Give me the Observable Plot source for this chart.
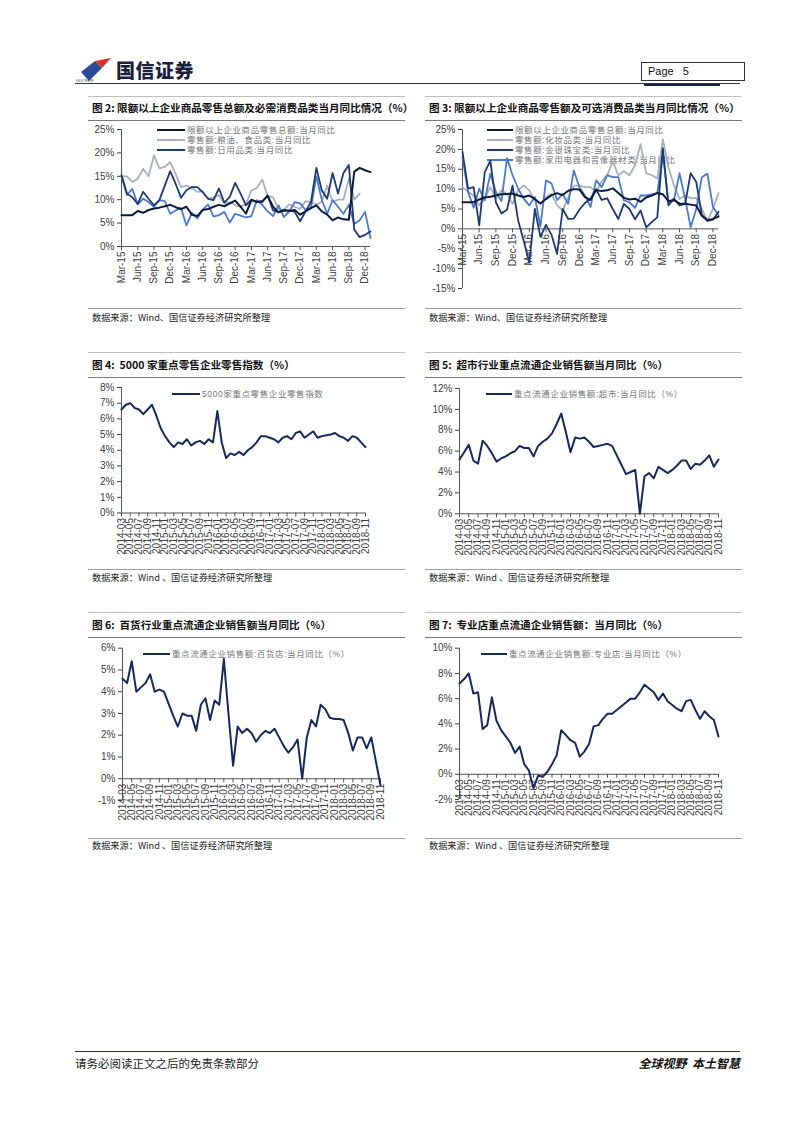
<!DOCTYPE html>
<html><head><meta charset="utf-8">
<script src="https://cdn.jsdelivr.net/npm/d3@7"></script>
<script src="https://cdn.jsdelivr.net/npm/@observablehq/plot@0.6"></script>
<style>
body{margin:0;background:#fff;}
#page{position:relative;width:802px;height:1133px;overflow:hidden;background:#fff;font-family:"Noto Sans CJK SC","Noto Sans",sans-serif;}
.hl{position:absolute;height:0;}
.title{position:absolute;font-weight:700;font-size:10.6px;line-height:16px;height:16px;color:#111;white-space:nowrap;}
.src{position:absolute;font-size:9.2px;line-height:12px;height:12px;color:#222;white-space:nowrap;}
.legend{position:absolute;font-family:"Liberation Sans","Noto Sans CJK SC",sans-serif;font-size:8.5px;letter-spacing:0.6px;color:#777;white-space:nowrap;z-index:0;}
.legend .row{display:flex;align-items:center;}
.legend .sw{display:inline-block;height:0;margin-right:2px;}
.chart{position:absolute;z-index:1;}
</style></head><body><div id="page"></div>
<script>
// ---------- DATA ----------
const quarterLabels = ["Mar-15","Jun-15","Sep-15","Dec-15","Mar-16","Jun-16","Sep-16","Dec-16","Mar-17","Jun-17","Sep-17","Dec-17","Mar-18","Jun-18","Sep-18","Dec-18"];
const quarterIdx = [0,3,6,9,12,15,18,21,24,27,30,33,36,39,42,45];
const monthLabels = ["2014-03","2014-05","2014-07","2014-09","2014-11","2015-01","2015-03","2015-05","2015-07","2015-09","2015-11","2016-01","2016-03","2016-05","2016-07","2016-09","2016-11","2017-01","2017-03","2017-05","2017-07","2017-09","2017-11","2018-01","2018-03","2018-05","2018-07","2018-09","2018-11"];
const monthIdx = [0,2,4,6,8,10,12,14,16,18,20,22,24,26,28,30,32,34,36,38,40,42,44,46,48,50,52,54,56];

// Chart 2 (Mar-15 .. Jan-19)
const c2Total = [6.7,6.7,6.7,7.6,7.2,7.8,8.1,8.3,8.6,8.9,8.4,8.0,8.5,6.8,6.5,7.8,8.0,8.5,8.9,8.6,9.2,9.8,8.5,7.0,9.9,9.5,9.7,10.8,8.5,7.3,7.8,7.6,7.8,6.8,7.5,8.2,8.8,7.5,6.8,5.6,6.2,5.8,5.7,16.0,16.8,16.3,15.9];
const c2Food = [15.0,15.0,13.8,14.5,16.6,15.0,19.5,16.7,17.0,18.0,15.5,12.7,13.0,12.5,11.7,11.8,10.2,10.5,11.0,9.2,9.5,8.8,8.6,9.0,12.0,12.5,14.3,10.8,10.5,8.0,7.8,9.0,8.5,8.0,9.7,9.5,9.0,9.5,13.0,9.5,10.0,10.0,14.5,10.0,11.3,null,null];
const c2Daily = [15.3,11.3,10.5,9.1,11.7,10.2,8.8,9.9,13.0,16.1,13.4,10.4,12.0,12.7,12.7,11.6,10.2,9.9,12.4,9.4,10.6,13.6,11.3,8.8,10.0,9.6,9.5,10.9,7.7,7.4,7.6,7.7,7.4,5.4,7.5,9.5,16.8,12.0,10.2,15.7,11.3,15.7,17.4,3.6,2.0,2.5,3.2];
const c2Other = [15.0,11.0,12.3,9.0,10.2,9.5,8.5,9.9,9.7,7.0,7.7,8.2,4.5,7.2,6.0,7.9,9.0,6.4,6.7,7.4,5.1,7.0,6.6,6.2,6.5,9.9,8.9,7.5,6.5,8.8,6.3,7.5,9.5,9.2,7.8,8.3,15.0,10.0,7.0,9.9,8.5,7.0,8.9,4.8,5.6,7.4,1.8];

// Chart 3 (Mar-15 .. Jan-19)
const c3Total = [6.7,6.7,6.7,7.4,7.9,8.1,8.4,8.7,8.8,8.9,8.4,8.0,8.4,7.5,6.4,7.5,8.5,9.0,8.5,9.6,10.0,9.9,8.0,7.3,9.8,9.5,9.7,10.2,9.0,7.8,7.4,7.6,6.8,7.9,8.4,9.0,8.7,7.0,7.2,6.4,6.3,6.1,5.9,3.3,2.2,2.5,3.1];
const c3Cosmetics = [10.5,9.3,8.4,5.9,7.6,10.5,7.6,9.7,8.8,6.3,9.7,10.9,9.7,7.2,6.3,8.0,8.8,5.9,4.6,8.0,10.9,10.9,10.5,10.5,9.3,12.0,13.5,17.0,13.5,14.5,13.5,16.0,21.3,14.0,13.5,12.7,22.5,15.5,11.0,7.5,8.4,7.7,7.8,5.0,2.0,5.0,9.0];
const c3Jewelry = [19.4,10.1,10.5,0.9,14.3,17.1,6.7,3.9,4.8,10.9,2.1,-3.0,-8.5,5.0,-2.0,1.0,-1.5,-6.3,5.0,2.5,2.6,4.8,6.5,7.5,10.0,7.3,7.7,5.0,2.5,6.3,5.0,2.4,4.6,0.4,1.7,2.9,20.3,5.9,7.6,5.9,6.3,14.0,11.8,3.5,2.0,2.3,4.3];
const c3Appliance = [18.0,9.3,5.3,10.1,7.2,13.9,9.3,7.0,17.8,13.5,10.1,7.6,5.9,8.0,0.6,12.2,11.4,7.2,8.8,6.3,14.7,10.5,8.4,5.5,12.2,10.5,13.5,13.0,13.0,7.2,6.7,5.3,8.4,8.4,8.7,9.0,19.0,6.7,7.3,14.0,7.6,0.4,5.0,13.0,13.9,5.5,3.4];

// Charts 4-7 (2014-03 .. 2018-11)
const c4Index = [6.6,6.9,7.0,6.7,6.6,6.3,6.6,6.9,6.2,5.4,4.9,4.5,4.2,4.5,4.4,4.7,4.3,4.5,4.6,4.4,4.7,4.5,6.5,4.5,3.5,3.8,3.7,3.9,3.7,4.0,4.2,4.5,4.9,4.9,4.8,4.7,4.5,4.8,4.9,4.7,5.1,5.2,4.8,5.0,5.2,4.8,4.9,4.95,5.0,5.1,4.9,4.8,4.6,4.9,4.8,4.5,4.2];
const c5Super = [5.2,5.9,6.6,5.1,4.8,7.0,6.5,5.8,5.0,5.3,5.5,5.8,6.0,6.5,6.3,6.3,5.5,6.5,6.9,7.2,7.7,8.6,9.6,7.8,5.9,7.3,7.2,7.3,6.9,6.4,6.5,6.6,6.7,6.5,5.6,4.7,3.8,4.0,4.2,0.0,3.6,3.9,3.4,4.5,4.2,3.9,4.2,4.6,5.1,5.1,4.3,4.8,4.7,5.1,5.6,4.5,5.2];
const c6Dept = [4.6,4.4,5.4,4.0,4.2,4.4,4.8,4.0,4.1,4.0,3.45,2.9,2.4,3.0,2.9,2.9,2.2,3.4,3.7,2.7,3.6,3.4,5.5,3.0,0.6,2.4,2.1,2.3,2.1,1.7,2.0,2.2,2.1,2.3,1.9,1.5,1.2,1.45,1.8,0.0,1.9,2.7,2.4,3.4,3.2,2.8,2.75,2.75,2.7,2.1,1.3,1.9,1.9,1.4,1.9,0.8,-0.3];
const c7Special = [7.2,7.55,8.0,6.4,6.5,3.6,3.9,6.1,4.25,3.5,3.0,2.5,1.7,2.2,0.8,0.3,-1.1,-0.1,-0.2,0.2,0.8,1.5,3.5,3.1,2.7,2.5,1.4,1.8,2.4,3.8,3.9,4.4,4.8,4.8,5.1,5.4,5.7,6.0,6.0,6.5,7.1,6.8,6.5,5.9,6.4,5.8,5.5,5.2,5.0,5.8,5.9,5.1,4.4,5.0,4.6,4.3,3.0];

const C_DARK = "#0d1b3d", C_NAVY = "#1f3a70", C_GRAY = "#a8b0ba", C_BLUE = "#4a7acb", C_LINE = "#15295a";

// ---------- PAGE ----------
const page = document.getElementById("page");
const add = h => page.insertAdjacentHTML("beforeend", h);
function hl(x1, x2, y, color, w) {
  add(`<div class="hl" style="left:${x1}px;top:${y - w/2}px;width:${x2 - x1}px;border-top:${w}px solid ${color}"></div>`);
}

// header
add(`<svg style="position:absolute;left:80px;top:57px" width="34" height="26" viewBox="0 0 34 26">
<polygon points="1,15 15,4 22,11 9,24" fill="#2c4a9a"/><polygon points="15,4 31,1 22,11" fill="#d8322a"/></svg>`);
add(`<div style="position:absolute;left:116px;top:57px;font-size:19px;line-height:26px;font-weight:900;color:#1a1f3d;letter-spacing:0.5px">国信证券</div>`);
add(`<div style="position:absolute;left:76px;top:79px;font-size:4px;line-height:4px;color:#445;font-family:'Liberation Sans'">GUOSEN</div>`);
add(`<div style="position:absolute;left:641px;top:62px;width:96px;height:17px;border:1px solid #333;font-family:'Liberation Sans',Arial;font-size:11px;line-height:17px;color:#111;padding-left:6px;box-sizing:content-box;white-space:pre">Page   5</div>`);
hl(75, 740, 83.8, "#1f3366", 1.4);
hl(644, 720, 85, "#1a2444", 2.6);

// footer
hl(75, 740, 1052, "#1f3366", 1.4);
add(`<div style="position:absolute;left:75px;top:1055px;font-size:11.5px;line-height:16px;color:#222">请务必阅读正文之后的免责条款部分</div>`);
add(`<div style="position:absolute;right:62px;top:1055px;font-size:12px;line-height:16px;font-weight:700;font-style:italic;color:#111;white-space:pre">全球视野  本土智慧</div>`);

function panel(x1, x2, yTop, yTitle, yUnder, ySrcLine, ySrc, title, src) {
  hl(x1, x2, yTop, "#c0c0c0", 1);
  add(`<div class="title" style="left:${x1 + 4}px;top:${yTitle - 8}px">${title}</div>`);
  hl(x1, x2, yUnder, "#7a7a7a", 1.2);
  hl(x1, x2, ySrcLine, "#a0a0a0", 1);
  add(`<div class="src" style="left:${x1 + 4}px;top:${ySrc - 6}px">${src}</div>`);
}
function legend(x, y, rowH, swW, entries) {
  const rows = entries.map(e => `<div class="row" style="height:${rowH}px"><span class="sw" style="width:${swW}px;border-top:2px solid ${e.color}"></span><span>${e.text}</span></div>`).join("");
  add(`<div class="legend" style="left:${x}px;top:${y - rowH/2}px;line-height:${rowH}px">${rows}</div>`);
}

function chart(cfg) {
  const {left, top, width, height, mL, mR, mT, mB, yDomain, yTicks, n, tickIdx, tickLabels, series} = cfg;
  const frameH = height - mT - mB;
  const upp = (yDomain[1] - yDomain[0]) / frameH;
  const ticks = tickIdx.map((i, k) => ({i, label: tickLabels[k]}));
  const marks = [
    Plot.axisY({ticks: yTicks, tickFormat: d => d + "%", tickSize: 4, tickPadding: 3, label: null}),
    Plot.ruleX([0], {stroke: "#555", strokeWidth: 1}),
    Plot.ruleY([0], {stroke: "#555", strokeWidth: 1}),
    Plot.ruleX(ticks, {x: "i", y1: 0, y2: -4 * upp, stroke: "#555", strokeWidth: 1}),
    Plot.text(ticks, {x: "i", y: 0, text: "label", rotate: -90, textAnchor: "end", lineAnchor: "middle", dy: 5, fill: "#404040", fontSize: 10})
  ];
  for (const s of series) {
    const data = s.values.map((v, i) => ({i, v}));
    marks.push(Plot.line(data, {x: "i", y: "v", stroke: s.color, strokeWidth: s.w || 1.8, strokeLinejoin: "round", strokeLinecap: "round"}));
  }
  const svg = Plot.plot({
    width, height, marginLeft: mL, marginRight: mR, marginTop: mT, marginBottom: mB,
    x: {domain: [0, n - 1], axis: null},
    y: {domain: yDomain, label: null},
    style: {fontFamily: "'Liberation Sans', Arial, sans-serif", fontSize: "10px", color: "#404040", background: "transparent", overflow: "visible"},
    marks
  });
  const wrap = document.createElement("div");
  wrap.className = "chart";
  wrap.style.left = left + "px";
  wrap.style.top = top + "px";
  wrap.appendChild(svg);
  page.appendChild(wrap);
}

// ----- Row 1 -----
panel(88, 405, 96, 108, 121, 308, 317, "图 2: 限额以上企业商品零售总额及必需消费品类当月同比情况（%）", "数据来源：Wind、国信证券经济研究所整理");
panel(425, 742, 96, 108, 121, 308, 317, "图 3: 限额以上企业商品零售额及可选消费品类当月同比情况（%）", "数据来源：Wind、国信证券经济研究所整理");
legend(157, 129.5, 10, 28, [
  {text: "限额以上企业商品零售总额:当月同比", color: C_DARK},
  {text: "零售额:粮油、食品类:当月同比", color: C_GRAY},
  {text: "零售额:日用品类:当月同比", color: C_NAVY}
]);
legend(487, 129.5, 10, 26, [
  {text: "限额以上企业商品零售总额:当月同比", color: C_DARK},
  {text: "零售额:化妆品类:当月同比", color: C_GRAY},
  {text: "零售额:金银珠宝类:当月同比", color: C_NAVY},
  {text: "零售额:家用电器和音像器材类:当月同比", color: C_BLUE}
]);
chart({left: 88, top: 122, width: 317, height: 184, mL: 33, mR: 35, mT: 7, mB: 60,
  yDomain: [0, 25], yTicks: [0, 5, 10, 15, 20, 25], n: 47, tickIdx: quarterIdx, tickLabels: quarterLabels,
  series: [
    {values: c2Food, color: C_GRAY},
    {values: c2Other, color: C_BLUE},
    {values: c2Daily, color: C_NAVY},
    {values: c2Total, color: C_DARK, w: 2}
  ]});
chart({left: 425, top: 122, width: 317, height: 184, mL: 37, mR: 24, mT: 7, mB: 18,
  yDomain: [-15, 25], yTicks: [-15, -10, -5, 0, 5, 10, 15, 20, 25], n: 47, tickIdx: quarterIdx, tickLabels: quarterLabels,
  series: [
    {values: c3Cosmetics, color: C_GRAY},
    {values: c3Appliance, color: C_BLUE},
    {values: c3Jewelry, color: C_NAVY},
    {values: c3Total, color: C_DARK, w: 2}
  ]});

// ----- Row 2 -----
panel(88, 405, 352, 365, 378, 569, 577, "图 4:&nbsp; 5000 家重点零售企业零售指数（%）", "数据来源：Wind 、国信证券经济研究所整理");
panel(425, 742, 352, 365, 378, 569, 577, "图 5:&nbsp; 超市行业重点流通企业销售额当月同比（%）", "数据来源：Wind 、国信证券经济研究所整理");
legend(172, 394, 10, 28, [{text: "5000家重点零售企业零售指数", color: C_LINE}]);
legend(486, 394, 10, 26, [{text: "重点流通企业销售额:超市:当月同比（%）", color: C_LINE}]);
chart({left: 88, top: 380, width: 317, height: 187, mL: 33, mR: 40, mT: 7, mB: 54.5,
  yDomain: [0, 8], yTicks: [0, 1, 2, 3, 4, 5, 6, 7, 8], n: 57, tickIdx: monthIdx, tickLabels: monthLabels,
  series: [{values: c4Index, color: C_LINE, w: 2}]});
chart({left: 425, top: 380, width: 317, height: 187, mL: 34, mR: 24, mT: 8, mB: 53.7,
  yDomain: [0, 12], yTicks: [0, 2, 4, 6, 8, 10, 12], n: 57, tickIdx: monthIdx, tickLabels: monthLabels,
  series: [{values: c5Super, color: C_LINE, w: 2}]});

// ----- Row 3 -----
panel(88, 405, 612, 625, 637.5, 838, 845, "图 6:&nbsp; 百货行业重点流通企业销售额当月同比（%）", "数据来源：Wind 、国信证券经济研究所整理");
panel(425, 742, 612, 625, 637.5, 838, 845, "图 7:&nbsp; 专业店重点流通企业销售额：当月同比（%）", "数据来源：Wind 、国信证券经济研究所整理");
legend(143, 654, 10, 27, [{text: "重点流通企业销售额:百货店:当月同比（%）", color: C_LINE}]);
legend(481, 654, 10, 26, [{text: "重点流通企业销售额:专业店:当月同比（%）", color: C_LINE}]);
chart({left: 88, top: 640, width: 317, height: 196, mL: 34, mR: 25, mT: 7.7, mB: 36,
  yDomain: [-1, 6], yTicks: [-1, 0, 1, 2, 3, 4, 5, 6], n: 57, tickIdx: monthIdx, tickLabels: monthLabels,
  series: [{values: c6Dept, color: C_LINE, w: 2}]});
chart({left: 425, top: 640, width: 317, height: 196, mL: 34, mR: 24, mT: 7.7, mB: 37,
  yDomain: [-2, 10], yTicks: [-2, 0, 2, 4, 6, 8, 10], n: 57, tickIdx: monthIdx, tickLabels: monthLabels,
  series: [{values: c7Special, color: C_LINE, w: 2}]});
</script></body></html>
